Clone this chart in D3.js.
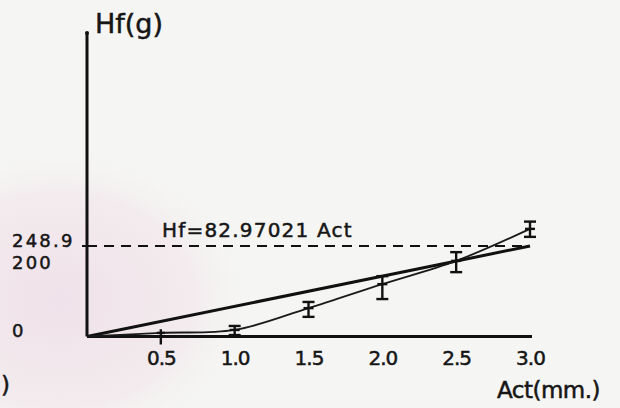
<!DOCTYPE html>
<html>
<head>
<meta charset="utf-8">
<script src="https://cdn.jsdelivr.net/npm/d3@7/dist/d3.min.js"></script>
<style>
  html, body { margin: 0; padding: 0; background: #f5f5f3; }
  svg { display: block; }
  text { font-family: "DejaVu Sans", sans-serif; fill: #161616; stroke: #161616; stroke-width: 0.5px; }
</style>
</head>
<body>
<svg id="chart" width="620" height="408"></svg>
<script>
// Measured hysteresis force Hf against actuation Act
const actValues = [0.5, 1.0, 1.5, 2.0, 2.5, 3.0];
const hfMean    = [10, 18, 78, 144, 208, 296];
const hfLower   = [-22, 4, 54, 103, 177, 274];
const hfUpper   = [20, 29, 95, 166, 232, 316];

// Linear fit through the origin
const slope = 82.97021;
const fitX = [0, 3.0];

const xTickValues = [0.5, 1.0, 1.5, 2.0, 2.5, 3.0];
const xTickLabels = ["0.5", "1.0", "1.5", "2.0", "2.5", "3.0"];
const yTickValues = [0, 200, 248.9];
const yTickLabels = ["0", "200", "248.9"];
const refLevel = 248.9;

const svg = d3.select("#chart");

// faint paper stain in the lower left
const defs = svg.append("defs");
const grad = defs.append("radialGradient").attr("id", "stain");
grad.append("stop").attr("offset", "0%").attr("stop-color", "#efdfe8").attr("stop-opacity", 0.9);
grad.append("stop").attr("offset", "70%").attr("stop-color", "#f1e4ea").attr("stop-opacity", 0.6);
grad.append("stop").attr("offset", "100%").attr("stop-color", "#f5f5f3").attr("stop-opacity", 0);
svg.append("ellipse").attr("cx", 60).attr("cy", 300).attr("rx", 190).attr("ry", 150)
  .attr("fill", "url(#stain)");

const x = d3.scaleLinear().domain([0, 3]).range([87, 530]);
const y = d3.scaleLinear().domain([0, refLevel]).range([336.5, 246]);

// axes lines
svg.append("line").attr("x1", x(0)).attr("x2", x(0)).attr("y1", 33).attr("y2", y(0))
  .attr("stroke", "#111").attr("stroke-width", 3);
svg.append("line").attr("x1", x(0)).attr("x2", 532).attr("y1", y(0)).attr("y2", y(0))
  .attr("stroke", "#111").attr("stroke-width", 3);
svg.append("circle").attr("cx", x(0)).attr("cy", 33).attr("r", 2).attr("fill", "#111");

// x axis labels
const xAxis = d3.axisBottom(x).tickValues(xTickValues).tickSize(0)
  .tickFormat((d, i) => xTickLabels[i]);
const gx = svg.append("g").attr("transform", `translate(0,${y(0)})`).call(xAxis);
gx.select(".domain").remove();
gx.selectAll("text").attr("y", 28).attr("dy", 0)
  .style("font-size", "20px").style("letter-spacing", "-1px").attr("fill", "#161616");

// y axis labels, left aligned near the page edge
const yAxis = d3.axisLeft(y).tickValues(yTickValues).tickSize(0)
  .tickFormat((d, i) => yTickLabels[i]);
const gy = svg.append("g").attr("transform", `translate(${x(0)},0)`).call(yAxis);
gy.select(".domain").remove();
gy.selectAll("text").attr("x", 12 - x(0)).attr("dy", 0).attr("text-anchor", "start")
  .attr("y", d => d === refLevel ? 0 : (d === 0 ? 0 : 5))
  .style("font-size", "18px").style("letter-spacing", "2.2px").attr("fill", "#161616");
svg.append("line").attr("x1", x(0) - 5).attr("x2", x(0)).attr("y1", y(refLevel)).attr("y2", y(refLevel))
  .attr("stroke", "#111").attr("stroke-width", 2);

// dashed reference level
svg.append("line").attr("x1", x(0)).attr("x2", 528).attr("y1", y(refLevel)).attr("y2", y(refLevel))
  .attr("stroke", "#111").attr("stroke-width", 2.2).attr("stroke-dasharray", "10,7");

// fitted straight line
const fitLine = d3.line().x(d => x(d)).y(d => y(slope * d));
svg.append("path").attr("d", fitLine(fitX)).attr("fill", "none")
  .attr("stroke", "#111").attr("stroke-width", 3);

// smooth curve through the measured means
const pts = [[0, 0]].concat(actValues.map((a, i) => [a, hfMean[i]]));
const curve = d3.line().x(d => x(d[0])).y(d => y(d[1])).curve(d3.curveCatmullRom.alpha(0.5));
svg.append("path").attr("d", curve(pts)).attr("fill", "none")
  .attr("stroke", "#1a1a1a").attr("stroke-width", 1.8);

// error bars
const eb = svg.append("g").attr("stroke", "#111").attr("stroke-width", 2.4);
actValues.forEach((a, i) => {
  const cx = x(a);
  eb.append("line").attr("x1", cx).attr("x2", cx).attr("y1", y(hfLower[i])).attr("y2", y(hfUpper[i]));
  if (i > 0) {
    eb.append("line").attr("x1", cx - 6).attr("x2", cx + 6).attr("y1", y(hfLower[i])).attr("y2", y(hfLower[i]));
    eb.append("line").attr("x1", cx - 6).attr("x2", cx + 6).attr("y1", y(hfUpper[i])).attr("y2", y(hfUpper[i]));
    eb.append("line").attr("x1", cx - 5).attr("x2", cx + 5).attr("y1", y(hfMean[i])).attr("y2", y(hfMean[i]));
  } else {
    eb.append("line").attr("x1", cx - 4).attr("x2", cx + 4).attr("y1", y(hfMean[i])).attr("y2", y(hfMean[i]));
  }
});

// titles and annotation
svg.append("text").attr("x", 95).attr("y", 33).style("font-size", "27px").text("Hf(g)");
svg.append("text").attr("x", 497).attr("y", 398).style("font-size", "23px")
  .style("letter-spacing", "-0.5px").text("Act(mm.)");
svg.append("text").attr("x", 162).attr("y", 237).style("font-size", "20px")
  .style("letter-spacing", "1.2px").text("Hf=82.97021 Act");
svg.append("text").attr("x", 1).attr("y", 393)
  .style("font-size", "23px").text(")");
</script>
</body>
</html>
